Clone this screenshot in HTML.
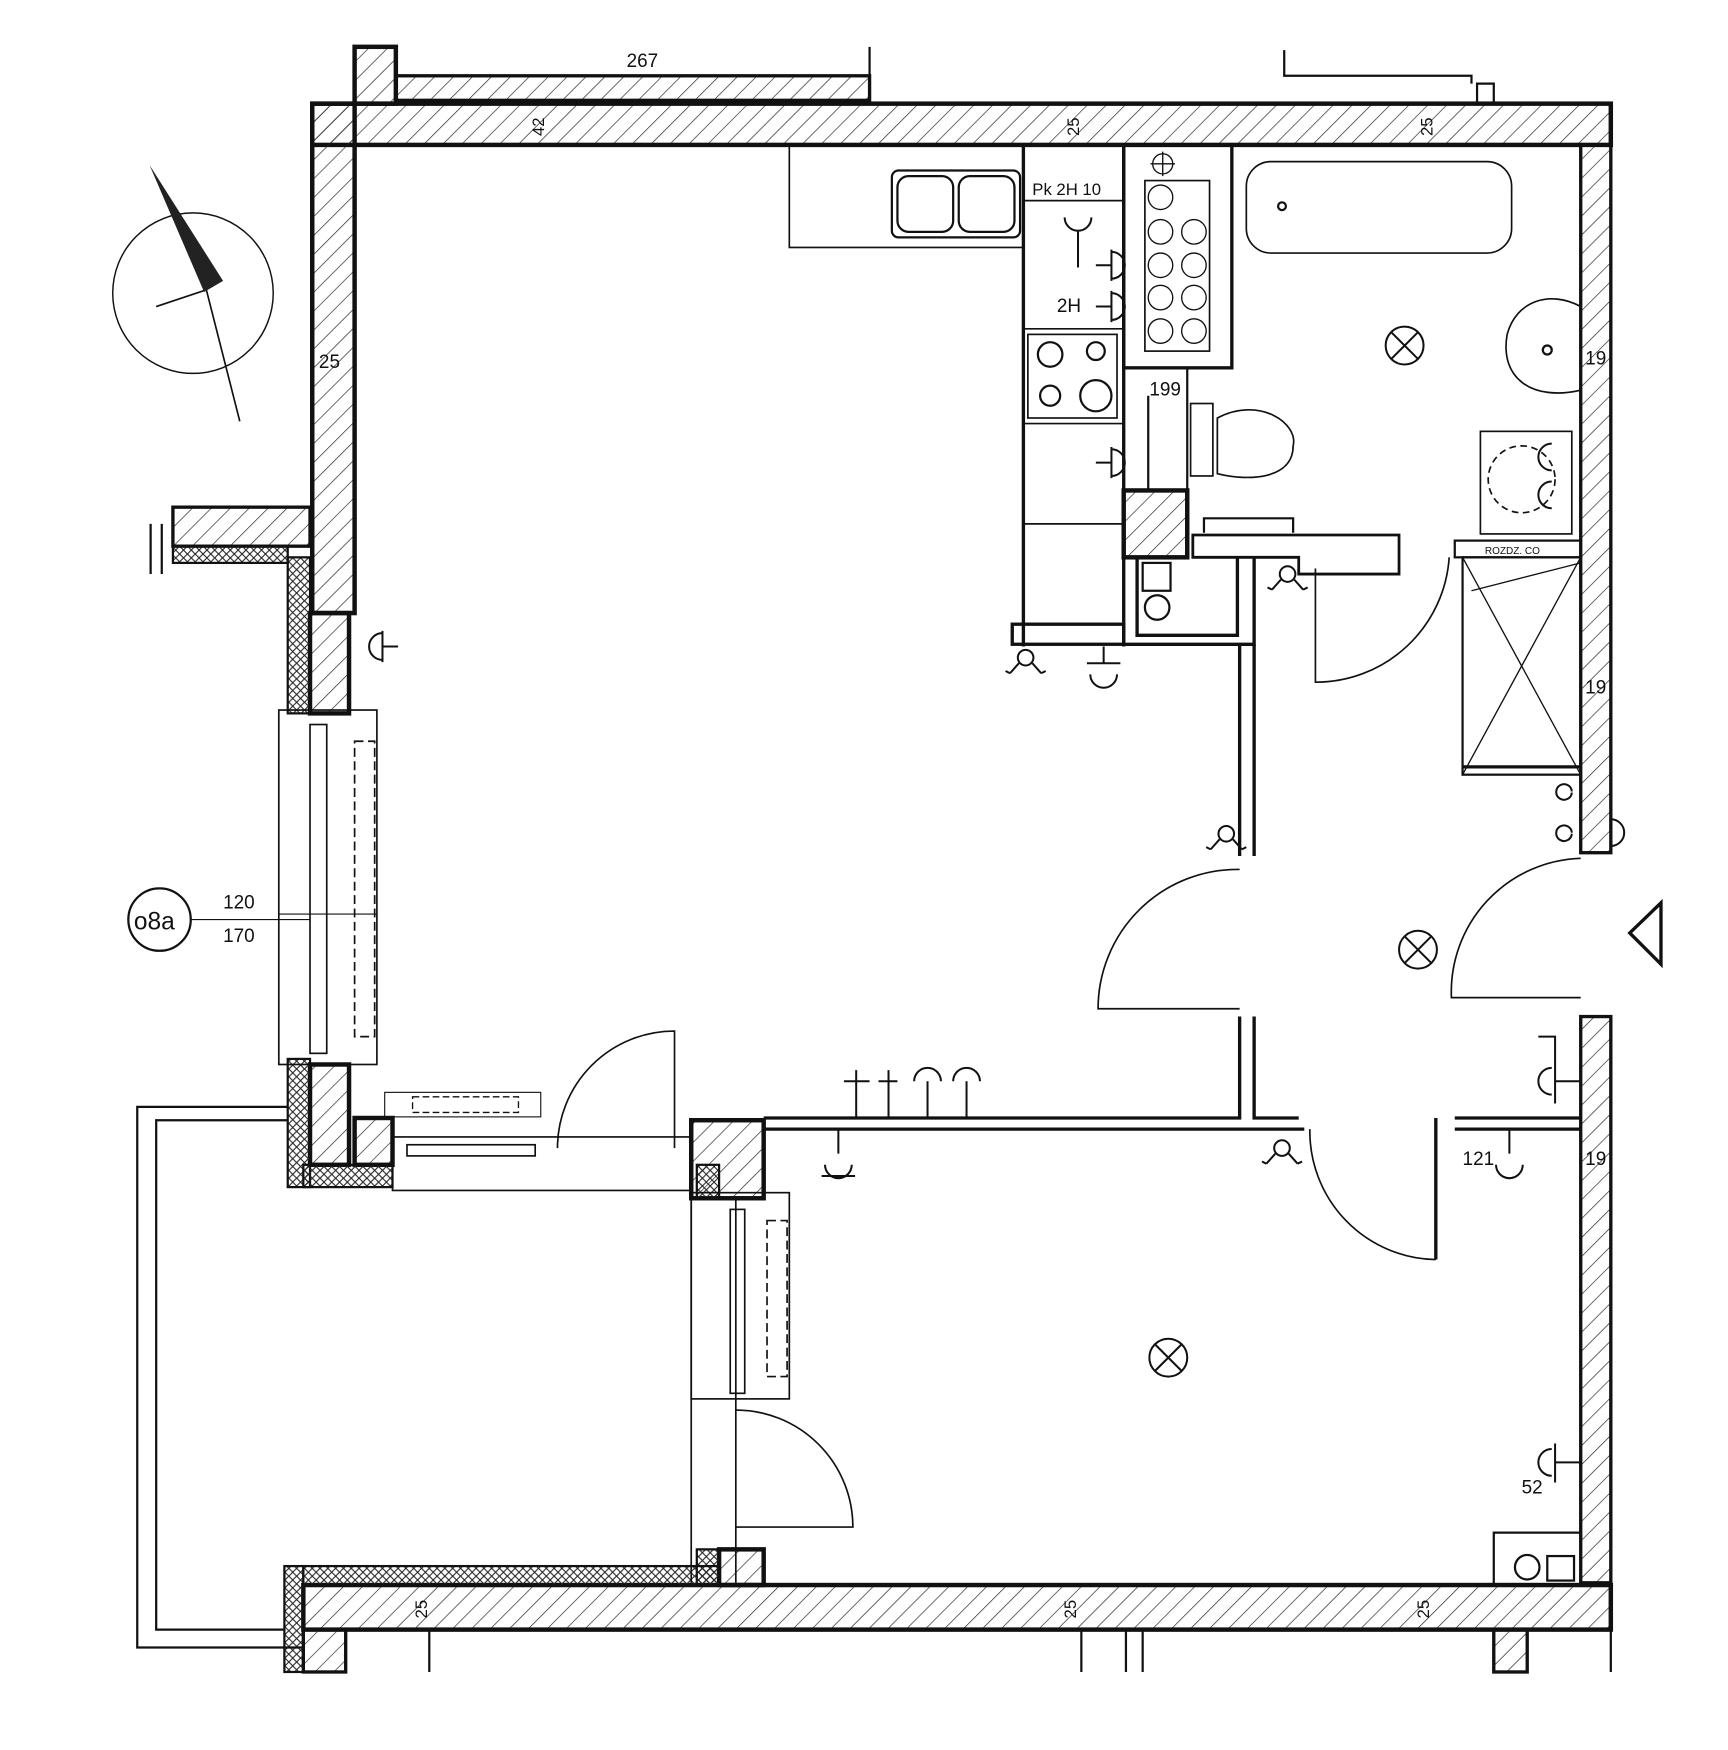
<!DOCTYPE html>
<html><head><meta charset="utf-8"><style>html,body{margin:0;padding:0;background:#fff}svg{display:block}</style></head><body>
<svg width="1728" height="1750" viewBox="0 0 1550 1570" xmlns="http://www.w3.org/2000/svg" font-family="Liberation Sans, sans-serif">
<defs>
<pattern id="h" width="12" height="12" patternUnits="userSpaceOnUse" patternTransform="rotate(45)">
<line x1="0" y1="0" x2="0" y2="12" stroke="#222" stroke-width="1.2"/>
</pattern>
<pattern id="x" width="7" height="7" patternUnits="userSpaceOnUse">
<path d="M0 0L7 7M7 0L0 7" stroke="#222" stroke-width="1"/>
</pattern>
<g id="sw"><circle cx="0" cy="0" r="7" fill="none"/><path d="M-6 5L-14 14M6 5L14 14M-18 12l4 2M18 12l-4 2"/></g>
<g id="out"><path d="M8 -12A12 12 0 0 0 8 12M8 -14V14M8 0H22" fill="none"/></g>
</defs>
<g stroke="#111" fill="none" stroke-width="2">
<g fill="url(#h)" stroke-width="4">
<rect x="280" y="93" width="1165" height="37"/>
<rect x="280" y="93" width="38" height="457"/>
<rect x="318" y="42" width="37" height="51"/>
<rect x="355" y="68" width="425" height="22" stroke-width="3"/>
<rect x="1418" y="130" width="27" height="635" stroke-width="3"/>
<rect x="1418" y="912" width="27" height="508" stroke-width="3"/>
<rect x="272" y="1422" width="1173" height="40"/>
<rect x="155" y="455" width="123" height="35" stroke-width="3"/>
<rect x="278" y="550" width="35" height="90"/>
<rect x="278" y="955" width="35" height="90"/>
<rect x="318" y="1003" width="34" height="42"/>
<rect x="620" y="1005" width="65" height="70"/>
<rect x="645" y="1390" width="40" height="32"/>
<rect x="1008" y="440" width="57" height="60"/>
<rect x="272" y="1462" width="38" height="38" stroke-width="3"/>
<rect x="1340" y="1462" width="30" height="38" stroke-width="3"/>
</g>
<g fill="url(#x)" stroke-width="2">
<rect x="258" y="500" width="20" height="140"/>
<rect x="258" y="950" width="20" height="115"/>
<rect x="272" y="1045" width="80" height="20"/>
<rect x="155" y="490" width="103" height="15"/>
<rect x="625" y="1045" width="20" height="30"/>
<rect x="625" y="1390" width="20" height="32"/>
<rect x="255" y="1405" width="17" height="95"/>
<rect x="272" y="1405" width="373" height="17"/>
</g>
<path d="M135 470V515M145 470V515M780 42V90M1152 45V68H1320V75M1325 75h15v18h-15z"/>
<path d="M385 1462V1500M970 1462V1500M1010 1462V1500M1025 1462V1500M1445 1462V1500"/>
<rect x="250" y="637" width="88" height="318" stroke-width="1.5"/>
<rect x="278" y="650" width="15" height="295" stroke-width="1.5"/>
<rect x="318" y="665" width="18" height="265" stroke-dasharray="8 4" stroke-width="1.5"/>
<line x1="250" y1="820" x2="338" y2="820" stroke-width="1"/>
<rect x="352" y="1020" width="268" height="48" stroke-width="1.5"/>
<rect x="365" y="1027" width="115" height="10" stroke-width="1.5"/>
<rect x="345" y="980" width="140" height="22" stroke-width="1"/>
<rect x="370" y="984" width="95" height="14" stroke-dasharray="6 3" stroke-width="1.2"/>
<path d="M685 1003H1112V912M1125 912V1003H1165M685 1013H1170M1305 1003H1418M1305 1013H1418M1288 1003V1130" stroke-width="3"/>
<path d="M1112 578V768M1125 578V768" stroke-width="3"/>
<path d="M500 1030A105 105 0 0 1 605 925V1030" stroke-width="1.5"/>
<path d="M1175 1013A115 115 0 0 0 1288 1130" stroke-width="1.5"/>
<path d="M1112 780A125 125 0 0 0 985 905H1112" stroke-width="1.5"/>
<path d="M1418 770A120 120 0 0 0 1302 895H1418" stroke-width="1.5"/>
<path d="M1180 510V612A120 120 0 0 0 1300 500" stroke-width="1.5"/>
<path d="M660 1265A105 105 0 0 1 765 1370H660" stroke-width="1.5"/>
<rect x="620" y="1070" width="88" height="185" stroke-width="1.5"/>
<rect x="655" y="1085" width="13" height="165" stroke-width="1.5"/>
<rect x="688" y="1095" width="18" height="140" stroke-dasharray="8 4" stroke-width="1.5"/>
<path d="M620 1075V1420M660 1075V1420" stroke-width="1.5"/>
<path d="M258 993H123V1478H272M258 1005H140V1462H255" stroke-width="2"/>
<rect x="708" y="130" width="210" height="92" stroke-width="1.5"/>
<rect x="800" y="153" width="115" height="60" rx="6"/>
<rect x="805" y="158" width="50" height="50" rx="10"/>
<rect x="860" y="158" width="50" height="50" rx="10"/>
<path d="M918 130V580M1008 130V580" stroke-width="3"/>
<path d="M918 180H1008M918 295H1008M918 380H1008M918 470H1008" stroke-width="1.5"/>
<rect x="922" y="300" width="80" height="75" stroke-width="1.5"/>
<circle cx="942" cy="318" r="11"/><circle cx="942" cy="355" r="9"/><circle cx="983" cy="315" r="8"/><circle cx="983" cy="355" r="14"/>
<rect x="908" y="560" width="100" height="18" stroke-width="3"/>
<path d="M1008 578H1125V500M1020 500V570H1110V500" stroke-width="3"/>
<rect x="1008" y="130" width="97" height="200" stroke-width="3"/>
<rect x="1027" y="162" width="58" height="153" stroke-width="1.5"/>
<g stroke-width="1.2">
<circle cx="1041" cy="177" r="11"/>
<circle cx="1041" cy="208" r="11"/><circle cx="1071" cy="208" r="11"/>
<circle cx="1041" cy="238" r="11"/><circle cx="1071" cy="238" r="11"/>
<circle cx="1041" cy="267" r="11"/><circle cx="1071" cy="267" r="11"/>
<circle cx="1041" cy="297" r="11"/><circle cx="1071" cy="297" r="11"/>
<circle cx="1043" cy="147" r="9"/><path d="M1032 147h22M1043 136v22"/>
</g>
<path d="M1008 330V440M1065 330V440M1030 355V440" stroke-width="2"/>
<rect x="1025" y="505" width="25" height="25" stroke-width="2"/>
<circle cx="1038" cy="545" r="11" stroke-width="2"/>
<path d="M1070 480H1255V515H1165V500H1070z" stroke-width="2.5"/>
<path d="M1080 478V465H1160V478" stroke-width="2"/>
<rect x="1118" y="145" width="238" height="82" rx="22" stroke-width="1.5"/>
<circle cx="1150" cy="185" r="3.5"/>
<path d="M1418 275C1390 260 1360 270 1352 300C1345 340 1375 360 1418 350" stroke-width="1.5"/>
<circle cx="1388" cy="314" r="4"/>
<rect x="1068" y="362" width="20" height="65" stroke-width="1.5"/>
<path d="M1092 375C1130 355 1165 380 1160 400C1160 430 1120 432 1092 425z" stroke-width="1.5"/>
<rect x="1328" y="387" width="82" height="92" stroke-width="1.5"/>
<circle cx="1365" cy="430" r="30" stroke-dasharray="6 4" stroke-width="1.5"/>
<rect x="1305" y="485" width="113" height="15" stroke-width="2"/>
<rect x="1312" y="500" width="106" height="195" stroke-width="2"/>
<path d="M1312 500L1418 695M1418 500L1312 695M1320 530L1418 505" stroke-width="1.2"/>
<path d="M1312 688H1418" stroke-width="3"/>
<rect x="1340" y="1375" width="78" height="47" stroke-width="2"/>
<circle cx="1370" cy="1406" r="11"/><rect x="1388" y="1396" width="24" height="22"/>
<g stroke-width="1.8">
<circle cx="1260" cy="310" r="17"/><path d="M1248 298l24 24M1272 298l-24 24"/>
<circle cx="1272" cy="852" r="17"/><path d="M1260 840l24 24M1284 840l-24 24"/>
<circle cx="1048" cy="1218" r="17"/><path d="M1036 1206l24 24M1060 1206l-24 24"/>
</g>
<path d="M1462 837L1490 810V865z" stroke-width="3"/>
<circle cx="173" cy="263" r="72" stroke-width="1.3"/>
<path d="M140 275L185 260L215 378" stroke-width="1.5"/>
<!-- switches & outlets -->
<g stroke-width="1.8">
<use href="#sw" x="920" y="590"/>
<use href="#sw" x="1155" y="515"/>
<use href="#sw" x="1100" y="748"/>
<use href="#sw" x="1150" y="1030"/>
<use href="#out" x="335" y="580"/>
<use href="#out" x="975" y="238" transform="rotate(180 990 238)"/>
<use href="#out" x="975" y="275" transform="rotate(180 990 275)"/>
<use href="#out" x="975" y="415" transform="rotate(180 990 415)"/>
<path d="M978 605A12 12 0 0 0 1002 605M975 595H1005M990 580V595"/>
<path d="M740 1045A12 12 0 0 0 764 1045M737 1055H767M752 1013V1035"/>
<path d="M1342 1045A12 12 0 0 0 1366 1045M1354 1013V1035"/>
<path d="M820 970A12 12 0 0 1 844 970M832 970V1003M855 970A12 12 0 0 1 879 970M867 970V1003"/>
<path d="M757 970H780M768 960V1003M788 970H805M797 960V1003"/>
<path d="M1392 958A12 12 0 0 0 1392 982M1395 950V990M1395 970H1418M1380 930H1395V950"/>
<path d="M1392 1300A12 12 0 0 0 1392 1324M1395 1295V1330M1395 1312H1418"/>
<path d="M1392 398A12 12 0 0 0 1392 422M1392 432A12 12 0 0 0 1392 456"/>
<path d="M1410 710A7 7 0 1 0 1410 711M1410 747A7 7 0 1 0 1410 748M1445 735A12 12 0 0 1 1445 759"/>
<path d="M955 195A12 12 0 0 0 979 195M967 207V240"/>
</g>
</g>
<path d="M134 148L200 252L183 262z" fill="#222"/>
<circle cx="143" cy="825" r="28" fill="none" stroke="#111" stroke-width="2"/>
<line x1="171" y1="825" x2="278" y2="825" stroke="#111"/>
<g font-size="17" fill="#111">
<text x="120" y="834" font-size="22">o8a</text>
<text x="200" y="815">120</text><text x="200" y="845">170</text>
<text x="562" y="60">267</text>
<text x="286" y="330">25</text>
<text x="1422" y="327">19</text><text x="1422" y="622">19</text><text x="1422" y="1045">19</text>
<text x="1312" y="1045">121</text><text x="1365" y="1340">52</text>
<text x="1031" y="355">199</text><text x="926" y="175" font-size="15">Pk 2H 10</text>
<text x="1332" y="497" font-size="9">ROZDZ. CO</text>
<text x="948" y="280">2H</text>
</g>
<g font-size="15" fill="#111">
<text transform="translate(488,122) rotate(-90)">42</text>
<text transform="translate(968,122) rotate(-90)">25</text>
<text transform="translate(1285,122) rotate(-90)">25</text>
<text transform="translate(383,1452) rotate(-90)">25</text>
<text transform="translate(965,1452) rotate(-90)">25</text>
<text transform="translate(1282,1452) rotate(-90)">25</text>
</g>
</svg>
</body></html>
